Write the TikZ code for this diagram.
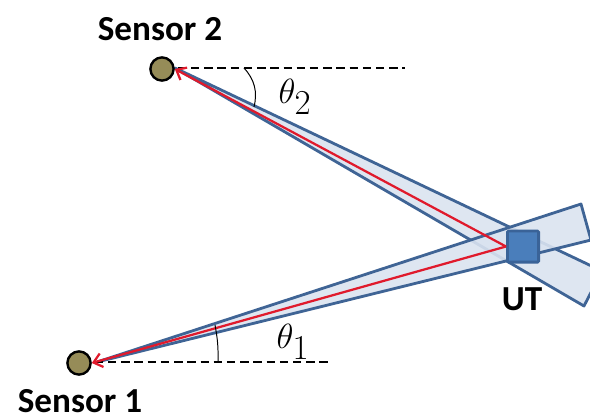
\documentclass[tikz,border=0pt]{standalone}
\usepackage{fontspec}
\setmainfont{Carlito}
\usepackage{xcolor}
\usetikzlibrary{arrows.meta,positioning,calc}
\definecolor{beamln}{HTML}{3F6495}
\definecolor{beambg}{HTML}{DAE3F0}
\definecolor{utfill}{HTML}{4A7EBB}
\definecolor{utln}{HTML}{3A6398}
\definecolor{sensbg}{HTML}{968C58}
\definecolor{rayc}{HTML}{E01A2C}
\tikzset{
  sens/.style ={draw=black, circle, line width=1.7pt, fill=sensbg, minimum size=5.8mm, inner sep=0pt},
  utbox/.style={draw=utln, rectangle, line width=2pt, rounded corners=0.3mm, fill=utfill, minimum size=7.8mm, inner sep=0pt},
  beam/.style ={draw=beamln, line width=2pt, fill=beambg, fill opacity=0.9, draw opacity=1, line join=round},
  ray/.style  ={draw=rayc, line width=1.6pt, -{Straight Barb[length=6pt,width=10pt]}},
  ref/.style  ={line width=1.3pt, dash pattern=on 6pt off 3.4pt},
  ang/.style  ={line width=0.7pt},
  lbl/.style  ={font=\bfseries\fontsize{25}{27}\selectfont, inner sep=0pt},
  thlbl/.style={font=\fontsize{37}{39}\selectfont, inner sep=0pt},
}
\begin{document}
\begin{tikzpicture}[x=0.25mm,y=-0.25mm]
\useasboundingbox (0,0) rectangle (590,416);
\clip (0,0) rectangle (590,416);
% apex and far corners of both beams
\coordinate (apexb) at (97,362);
\coordinate (apext) at (175,68);
\coordinate (topa) at (581,204);
\coordinate (topb) at (591,240);
\coordinate (lowa) at (584,306);
\coordinate (lowb) at (602,271);
\draw[beam] (apext) -- (lowb) -- (lowa) -- cycle;
\draw[beam] (apexb) -- (topa) -- (topb) -- cycle;
\node[sens] (sensa) at (79,363) {};
\node[sens] (sensb) at (162,69) {};
\node[utbox] (ut) at (523,246.5) {};
\coordinate (refa) at (328,362);
\coordinate (refb) at (405,68);
\draw[ref] (sensa.east) ++(3,-1) -- (refa);
\draw[ref] (sensb.east) ++(3,-1) -- (refb);
\draw[ray] (ut.west) -- (sensa.east);
\draw[ray] (ut.west) -- (sensb.east);
% angle marks
\coordinate (anga) at (215,325);
\coordinate (angb) at (218,362);
\coordinate (angc) at (244,68);
\coordinate (angd) at (254,107);
\draw[ang] (anga) to[bend left=6] (angb);
\draw[ang] (angc) to[bend left=28] (angd);
\node[lbl] (labb) at (160,29) {Sensor 2};
\node[lbl] (laba) at (80,401) {Sensor 1};
\node[lbl] (labu) at (522,299) {UT};
\node[thlbl] (tha) at (293,342) {$\theta_1$};
\node[thlbl] (thb) at (295,97) {$\theta_2$};
\end{tikzpicture}
\end{document}
